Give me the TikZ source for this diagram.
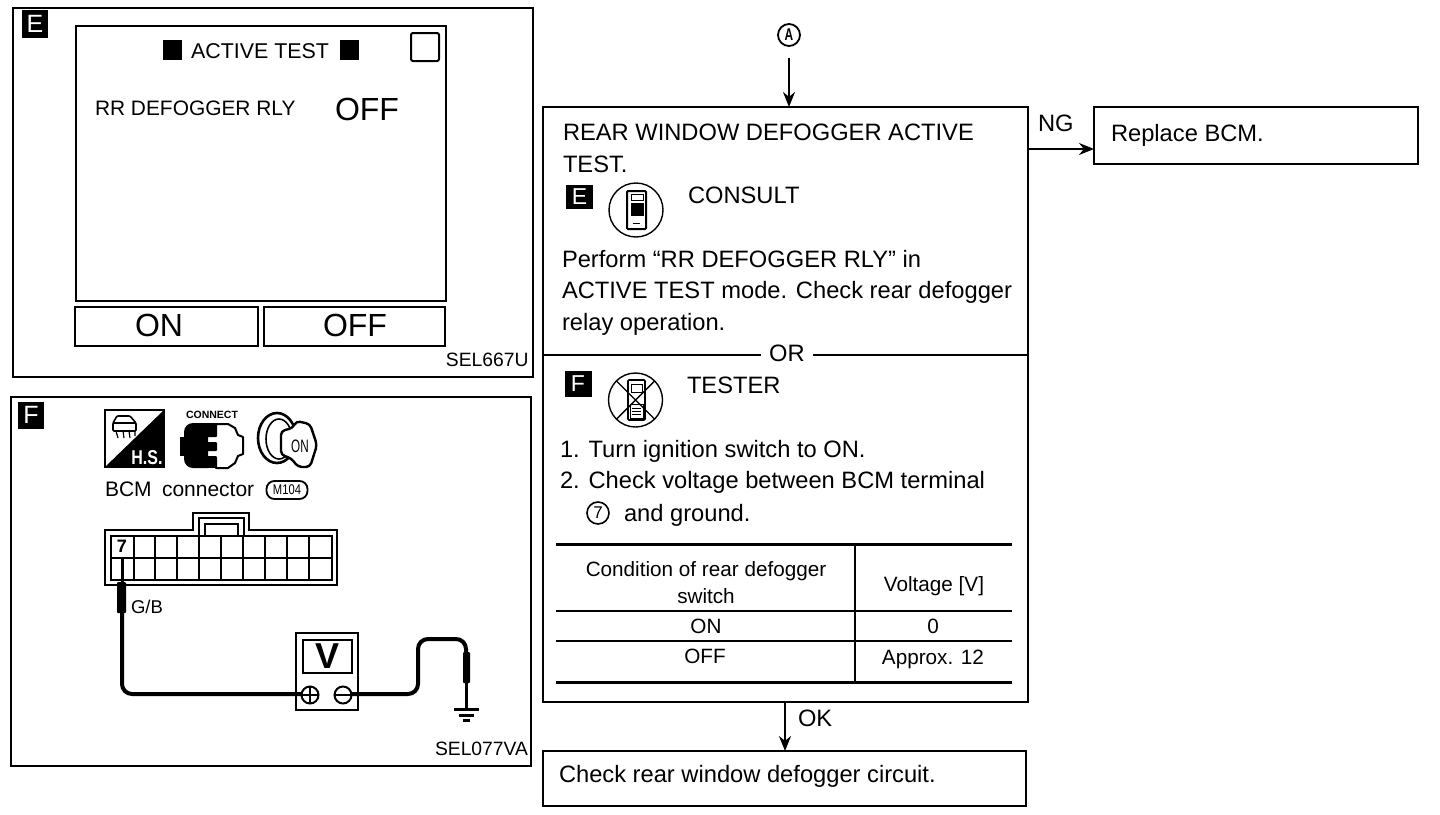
\documentclass[tikz,border=0pt]{standalone}
\usepackage{fontspec}
\setmainfont{Liberation Sans}
\usetikzlibrary{arrows.meta,positioning}
\begin{document}
\begin{tikzpicture}[
  x=1pt,y=-1pt,
  >=Stealth,
  line width=2pt,
  every node/.style={outer sep=0pt},
  box/.style={draw,anchor=north west,inner sep=0pt},
  tag/.style={fill=black,text=white,anchor=center,inner sep=0pt,minimum width=26pt,minimum height=27pt,font=\fontsize{25}{25}\selectfont},
  big/.style={anchor=base west,inner sep=0pt,font=\fontsize{23.7}{28}\selectfont},
  mid/.style={anchor=base,inner sep=0pt,font=\fontsize{20.7}{24}\selectfont},
  code/.style={anchor=base east,inner sep=0pt,font=\fontsize{19.3}{22}\selectfont},
  huge/.style={anchor=center,inner sep=0pt,font=\fontsize{32}{36}\selectfont},
  arc/.style={->,line width=2pt,>={Stealth[length=15pt,width=12pt]}},
  wire/.style={line width=4pt,rounded corners=10pt}
]
\useasboundingbox (0,0) rectangle (1440,814);
\node[box,minimum width=520pt,minimum height=369pt] (epanel) at (13,8) {};
\node[box,minimum width=520pt,minimum height=369pt] (fpanel) at (11,397) {};
\node[tag,minimum height=28pt] (etag) at (35,24) {E};
\node[tag] (ftag) at (31,415) {F};
\node[box,minimum width=370pt,minimum height=275pt] (screen) at (76,26) {};
\node[box,minimum width=183pt,minimum height=39pt] (onkey) at (75,307) {};
\node[box,minimum width=181pt,minimum height=39pt] (offkey) at (264,307) {};
\node[huge] (ontext) at (159,325) {ON};
\node[huge] (offtext) at (355,325) {OFF};
\node[box,minimum width=28pt,minimum height=28pt,rounded corners=2pt] (corner) at (411,33) {};
\node[fill=black,minimum width=19pt,minimum height=20pt,inner sep=0pt] (blacka) at (172.5,50) {};
\node[fill=black,minimum width=19pt,minimum height=20pt,inner sep=0pt] (blackb) at (349.5,50) {};
\node[anchor=center,inner sep=0pt,font=\fontsize{21.4}{24}\selectfont] (activetest) at (260,51) {ACTIVE TEST};
\node[anchor=base west,inner sep=0pt,font=\fontsize{20.9}{24}\selectfont] (rrdef) at (95,115) {RR DEFOGGER RLY};
\node[huge,anchor=base west] (rroff) at (335,120) {OFF};
\node[code] (sela) at (528.5,366) {SEL667U};
\node[code] (selb) at (528,755) {SEL077VA};
\node[draw,circle,minimum size=22pt,inner sep=0pt,line width=1.8pt,font=\fontsize{17}{17}\selectfont\bfseries] (aref) at (789,35) {\scalebox{.7}[1]{A}};
\node[box,minimum width=485pt,minimum height=595pt] (mainbox) at (543,107) {};
\node[box,minimum width=324pt,minimum height=57pt] (replacebox) at (1094,107) {};
\node[box,minimum width=483pt,minimum height=55pt] (checkbox) at (543,751) {};
\coordinate (ngend) at (1094,149);
\coordinate (okstart) at (785,702);
\draw[arc,shorten <=12pt] (aref) -- (aref |- mainbox.north);
\draw[arc] (mainbox.east |- ngend) -- (ngend);
\draw[arc] (okstart) -- (okstart |- checkbox.north);
\node[big] (nglabel) at (1038,131) {NG};
\node[big] (oklabel) at (798,726) {OK};
\node[big] (replacetext) at (1111,141) {Replace BCM.};
\node[big] (checktext) at (559,782) {Check rear window defogger circuit.};
\node[big] (l1) at (563,140) {REAR WINDOW DEFOGGER ACTIVE};
\node[big] (l2) at (563,172) {TEST.};
\node[tag,minimum width=27pt,minimum height=24pt,font=\fontsize{23}{23}\selectfont] (etagb) at (579.5,196.5) {E};
\node[big] (consult) at (688,203) {CONSULT};
\node[big] (l3) at (562,267) {Perform “RR DEFOGGER RLY” in};
\node[big] (l4) at (562,298) {ACTIVE TEST mode. Check rear defogger};
\node[big] (l5) at (562,330) {relay operation.};
\node[big,anchor=base,fill=white,inner xsep=8pt] (orlabel) at (787,361) {OR};
\coordinate (ora) at (543,355);
\coordinate (orb) at (1028,355);
\draw[line width=1.6pt] (ora) -- (orlabel.west |- ora) (orlabel.east |- orb) -- (orb);
\node[tag,minimum width=27pt,minimum height=26pt,font=\fontsize{23}{23}\selectfont] (ftagb) at (578,383.5) {F};
\node[big] (tester) at (687,393) {TESTER};
\node[big] (l6) at (560,457) {1. Turn ignition switch to ON.};
\node[big] (l7) at (560,488) {2. Check voltage between BCM terminal};
\node[big] (l8) at (624,521) {and ground.};
\node[draw,circle,minimum size=22pt,inner sep=0pt,line width=1.6pt,font=\fontsize{17}{17}\selectfont] (seven) at (598,513) {7};
\node[draw,circle,minimum size=54pt,line width=1.4pt] (consulticon) at (636,210) {};
\draw[line width=2pt,fill=white,rounded corners=1pt] (627,191) rectangle (646,229);
\fill (631,203) rectangle (644,216);
\draw[line width=1pt] (631,194) rectangle (643,200);
\draw[line width=1pt] (633,223) -- (640,223);
\node[draw,circle,minimum size=54pt,line width=1.4pt] (testericon) at (635.5,400) {};
\draw[line width=1.6pt,rounded corners=1pt] (628,380) rectangle (645,420);
\draw[line width=1pt] (631,384) rectangle (642,392);
\fill[white] (630,404) rectangle (643,418);
\draw[line width=1pt] (630,404) rectangle (643,418) (632,408) -- (641,408) (632,411) -- (641,411) (632,414) -- (641,414);
\draw[line width=1.4pt] (testericon.north west) -- (testericon.south east) (testericon.north east) -- (testericon.south west);
\draw[line width=3pt] (556,544) -- (1012,544) (556,682) -- (1012,682);
\draw[line width=1.6pt] (556,611) -- (1012,611) (556,641) -- (1012,641) (855,544) -- (855,684);
\node[mid] (ca) at (706,576) {Condition of rear defogger};
\node[mid] (cb) at (706,603) {switch};
\node[mid] (cc) at (934,591) {Voltage [V]};
\node[mid] (cd) at (706,633) {ON};
\node[mid] (ce) at (933,633) {0};
\node[mid] (cf) at (705,663) {OFF};
\node[mid] (cg) at (933,664) {Approx. 12};
\node[box,minimum width=59pt,minimum height=57pt] (hsbox) at (105,410) {};
\fill (164,410) -- (164,467) -- (105,467) -- cycle;
\node[anchor=center,inner sep=0pt,text=white,font=\fontsize{20}{20}\selectfont\bfseries] (hslabel) at (147,458) {\scalebox{.8}[1]{H.S.}};
\draw[line width=1.6pt,rounded corners=1pt] (113,423) -- (117,416) -- (130,416) -- (136,423) -- (136,431) -- (113,431) -- cycle (113,423) -- (136,423);
\draw[line width=1.2pt] (116,431) -- (118,438) (123,431) -- (124,438) (129,431) -- (130,438) (135,431) -- (135,436);
\node[anchor=center,inner sep=0pt,font=\fontsize{10.5}{11}\selectfont\bfseries] (connect) at (212,415) {CONNECT};
\fill (180,437) rectangle (186,456);
\fill[rounded corners=9pt] (184,423) rectangle (217,468);
\fill (200,423) rectangle (217,468);
\draw[line width=2pt,fill=white,line join=round] (216,424) -- (228,424) -- (235,428) -- (238,435) -- (243,437) -- (243,454) -- (238,456) -- (235,463) -- (228,468) -- (216,468) -- (216,457) -- (207,457) -- (207,450) -- (216,450) -- (216,443) -- (207,443) -- (207,436) -- (216,436) -- cycle;
\draw[line width=2.6pt,fill=white] (277,438) ellipse (19pt and 25pt);
\draw[line width=1.6pt] (279,439) ellipse (13pt and 20pt);
\draw[line width=2.4pt,fill=white,rounded corners=4pt,line join=round] (281,431) -- (293,428) -- (296,421) -- (310,424) -- (317,445) -- (310,467) -- (298,467) -- (291,458) -- (281,455) -- cycle;
\node[anchor=center,inner sep=0pt,font=\fontsize{18}{18}\selectfont] (keyon) at (300,446) {\scalebox{.65}[1]{ON}};
\node[anchor=base west,inner sep=0pt,font=\fontsize{21}{24}\selectfont] (bcm) at (105,496) {BCM};
\node[anchor=base west,inner sep=0pt,font=\fontsize{21}{24}\selectfont] (conn) at (162,496) {connector};
\node[draw,rounded corners=8pt,line width=1.8pt,minimum width=41pt,minimum height=18pt,inner sep=0pt,font=\fontsize{14}{14}\selectfont] (mref) at (287,490) {\scalebox{.8}[1]{M104}};
\draw[line width=1.6pt] (105,530) -- (193,530) -- (193,513) -- (249,513) -- (249,530) -- (337,530) -- (337,585) -- (105,585) -- cycle;
\draw[line width=1.6pt] (199,536) -- (199,518) -- (244,518) -- (244,536) (205,536) -- (205,524) -- (238,524) -- (238,536);
\draw[line width=1.6pt] (111,536) rectangle (332,580) (111,558) -- (332,558);
\foreach \cx in {134,155,177,199,221,243,265,287,309}
  \draw[line width=1.6pt] (\cx,536) -- (\cx,580);
\draw[line width=2.2pt] (111,536) rectangle (134,558);
\node[anchor=center,inner sep=0pt,font=\fontsize{18}{18}\selectfont\bfseries] (pin) at (122,546) {7};
\draw[line width=3pt] (122,558) -- (122,582);
\fill[rounded corners=1pt] (117,582) rectangle (126,613);
\node[anchor=base west,inner sep=0pt,font=\fontsize{18.5}{20}\selectfont] (gb) at (131,613) {G/B};
\node[box,minimum width=62pt,minimum height=77pt] (meter) at (296,633) {};
\node[box,minimum width=49pt,minimum height=33pt,line width=2.4pt,font=\fontsize{36}{36}\selectfont\bfseries] (display) at (303,640) {V};
\coordinate (probetop) at (122,613);
\coordinate (gndtop) at (466,652);
\coordinate (gndend) at (466,709);
\draw[wire] (probetop) -- (122,694) -- (310,694);
\draw[wire] (343,694) -- (418,694) -- (418,639) -- (466,639) -- (gndtop);
\node[draw,circle,fill=white,minimum size=17pt,inner sep=0pt,line width=2pt] (plus) at (310,695) {};
\node[draw,circle,fill=white,minimum size=17pt,inner sep=0pt,line width=2pt] (minus) at (343,695) {};
\draw[line width=2.4pt] (plus.west) -- (plus.east) (plus.north) -- (plus.south) (minus.west) -- (minus.east);
\fill[rounded corners=1pt] (463,652) rectangle (470,683);
\draw[line width=3pt] (466,683) -- (gndend);
\draw[line width=3pt] (454,709) -- (479,709);
\draw[line width=3pt] (459,715) -- (474,715);
\draw[line width=3pt] (463,720) -- (470,720);
\end{tikzpicture}
\end{document}
